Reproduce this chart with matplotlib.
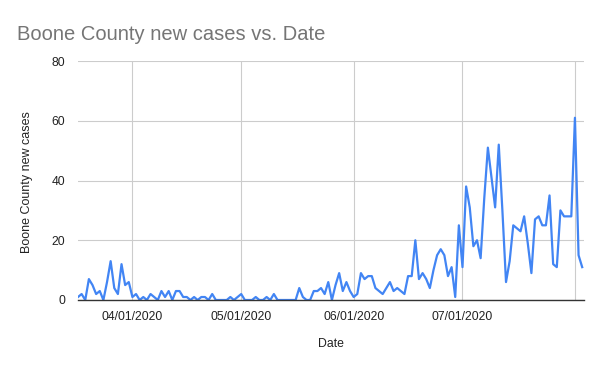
import matplotlib
matplotlib.use('Agg')
import matplotlib.pyplot as plt
import matplotlib.dates as mdates
import pandas as pd

plt.rcParams['font.family'] = ['Liberation Sans', 'DejaVu Sans']

# daily new cases, 03/17/2020 .. 08/03/2020
mar = [1, 2, 0, 7, 5, 2, 3, 0, 6, 13, 4, 2, 12, 5, 6]
apr = [1, 2, 0, 1, 0, 2, 1, 0, 3, 1, 3, 0, 3, 3, 1, 1, 0, 1, 0, 1,
       1, 0, 2, 0, 0, 0, 0, 1, 0, 1]
may = [2, 0, 0, 0, 1, 0, 0, 1, 0, 2, 0, 0, 0, 0, 0, 0, 4, 1, 0, 0,
       3, 3, 4, 2, 6, 0, 5, 9, 3, 6, 3]
jun = [1, 2, 9, 7, 8, 8, 4, 3, 2, 4, 6, 3, 4, 3, 2, 8, 8, 20, 7, 9,
       7, 4, 10, 15, 17, 15, 8, 11, 1, 25]
jul = [11, 38, 31, 18, 20, 14, 34, 51, 41, 31, 52, 30, 6, 13, 25, 24, 23, 28, 19, 9,
       27, 28, 25, 25, 35, 12, 11, 30, 28, 28, 28]
aug = [61, 15, 11]
new_cases = mar + apr + may + jun + jul + aug

start_date = '2020-03-17'
dates = pd.date_range(start_date, periods=len(new_cases), freq='D')

tick_dates = pd.to_datetime(['2020-04-01', '2020-05-01', '2020-06-01', '2020-07-01', '2020-08-01'])
tick_labels = ['04/01/2020', '05/01/2020', '06/01/2020', '07/01/2020', '']
y_ticks = [0, 20, 40, 60, 80]

fig = plt.figure(figsize=(6, 3.71), dpi=100)
ax = fig.add_axes([78 / 600, 71 / 371, 506 / 600, 239 / 371])

ax.plot(dates, new_cases, color='#4285F4', linewidth=1.6, solid_joinstyle='round', zorder=3)

ax.set_xlim(dates[0], dates[0] + pd.Timedelta(days=139.5))
ax.set_ylim(0, 80)
ax.set_xticks(tick_dates)
ax.set_xticklabels(tick_labels)
ax.set_yticks(y_ticks)

ax.grid(True, color='#cccccc', linewidth=0.8)
ax.set_axisbelow(True)
for s in ['top', 'right', 'left']:
    ax.spines[s].set_visible(False)
ax.spines['bottom'].set_color('#333333')
ax.spines['bottom'].set_linewidth(1.0)
ax.spines['bottom'].set_zorder(4)
ax.tick_params(length=0, labelsize=8.7, labelcolor='#222222')
ax.tick_params(axis='x', pad=8)
ax.tick_params(axis='y', pad=9)

fig.text(17 / 600, 1 - 35 / 371, 'Boone County new cases vs. Date', fontsize=14.5,
         color='#757575', ha='left', va='center')
fig.text(27 / 600, 1 - 182 / 371, 'Boone County new cases', fontsize=9,
         color='#222222', rotation=90, ha='center', va='center')
fig.text(331 / 600, 1 - 344 / 371, 'Date', fontsize=8.8, color='#222222',
         ha='center', va='center')

fig.savefig('out.png', dpi=100)
